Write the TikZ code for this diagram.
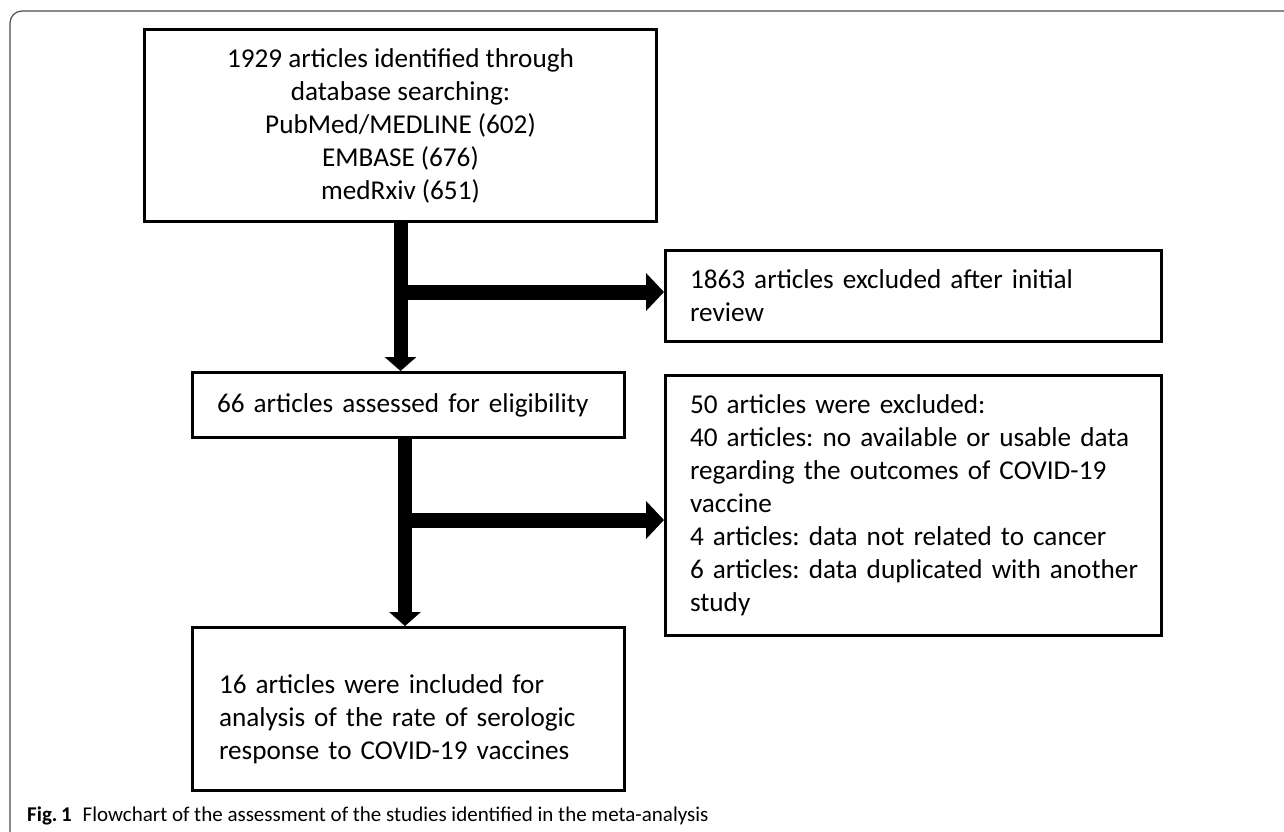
\documentclass[tikz,border=0pt]{standalone}
\usepackage{fontspec}
\setmainfont{Carlito}
\usetikzlibrary{arrows.meta,calc}
\newcommand\Lrow[1]{\mbox{#1}}
\frenchspacing
\begin{document}
\begin{tikzpicture}[x=1pt,y=-1pt,
  boxstyle/.style={draw=black, line width=3pt, rectangle, inner sep=0pt,
    font=\fontsize{27.2}{33}\selectfont},
  leftbox/.style={boxstyle, align=left, text width=#1},
  varrow/.style={line width=14pt, -{Triangle[width=31pt,length=14pt]}},
  harrow/.style={line width=15pt, -{Triangle[width=37pt,length=18pt]}},
]
\useasboundingbox (0,0) rectangle (1284,831);
\fill[white] (0,0) rectangle (1284,831);
% outer frame
\draw[black!70, line width=1.2pt, rounded corners=12pt] (10,11) rectangle (1310,845);

% boxes
\node[boxstyle, minimum width=512pt, minimum height=192pt, align=center] (b1) at (400.5,125.5)
  {1929 articles identified through\\database searching:\\PubMed/MEDLINE (602)\\EMBASE (676)\\medRxiv (651)};
\node[leftbox=383pt, minimum width=432pt, minimum height=65pt] (b2) at (408.5,405)
  {\Lrow{66 articles assessed for eligibility}};
\node[leftbox=447pt, minimum width=496pt, minimum height=91pt] (b3) at (913.5,296)
  {\Lrow{1863 articles excluded after initial}\\\Lrow{review}};
\node[leftbox=447pt, minimum width=496pt, minimum height=260pt] (b5) at (913.5,505.5)
  {\Lrow{50 articles were excluded:}\\\Lrow{40 articles: no available or usable data}\\\Lrow{regarding the outcomes of COVID-19}\\\Lrow{vaccine}\\\Lrow{4 articles: data not related to cancer}\\\Lrow{6 articles: data duplicated with another}\\\Lrow{study}};
\node[leftbox=379pt, minimum width=432pt, minimum height=163pt] (b4) at (408.5,709)
  {\Lrow{\rule{0pt}{40pt}16 articles were included for}\\\Lrow{analysis of the rate of serologic}\\\Lrow{response to COVID-19 vaccines}};

% connectors
\coordinate (j1) at (400.5,292);
\coordinate (s2) at ([xshift=-3.5pt]b2.south);
\coordinate (j2) at (405,520);
\draw[varrow] (b1.south) -- (b1.south |- b2.north);
\draw[harrow] (j1) -- (j1 -| b3.west);
\draw[varrow] (s2) -- (s2 |- b4.north);
\draw[harrow] (j2) -- (j2 -| b5.west);

% caption
\node[anchor=base west, inner sep=0pt, font=\fontsize{21}{24}\selectfont] (cap) at (27,821)
  {\textbf{Fig.\,1}\hspace{11pt}Flowchart of the assessment of the studies identified in the meta-analysis};
\end{tikzpicture}
\end{document}
